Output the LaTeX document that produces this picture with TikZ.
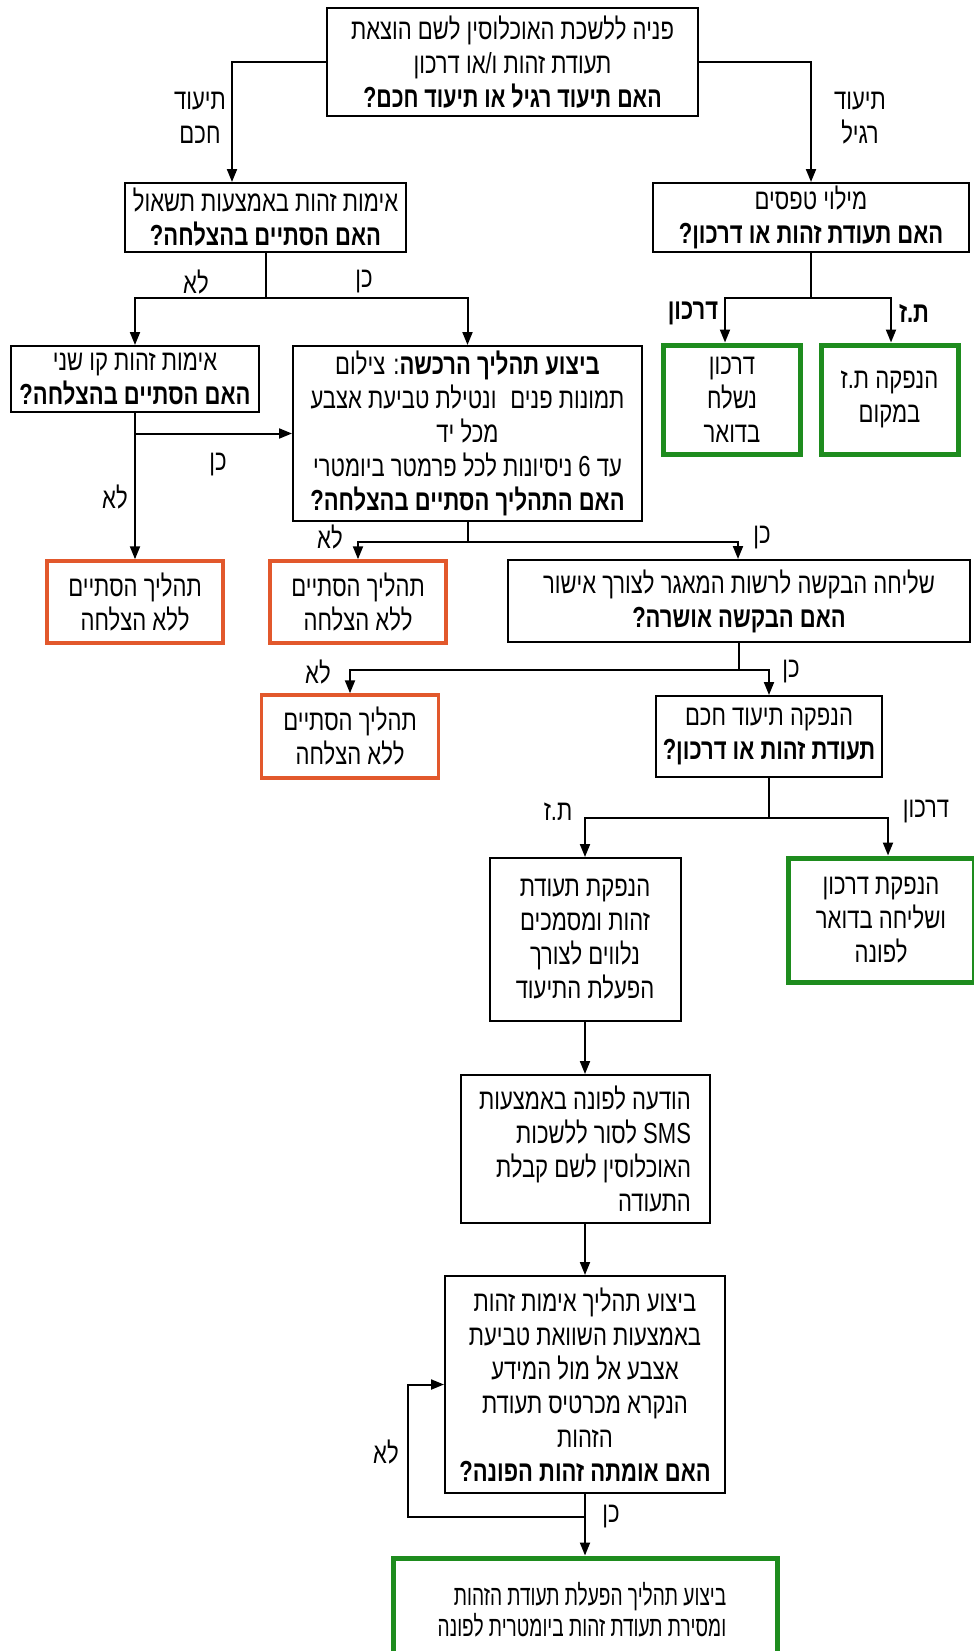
\documentclass[tikz,border=0pt]{standalone}
\usepackage{fontspec}
\usetikzlibrary{arrows.meta,calc}
\newfontfamily\heb[Script=Hebrew,FakeStretch=0.76]{Liberation Sans}
\newfontfamily\hebn[Script=Hebrew,FakeStretch=0.67]{Liberation Sans}
\TeXXeTstate=1
\newcommand\rl[1]{\mbox{\beginR #1\endR}}
\definecolor{boxgreen}{RGB}{30,140,30}
\definecolor{boxorange}{RGB}{226,88,44}
\tikzset{
  base/.style={font=\heb\fontsize{29}{34}\selectfont, inner sep=0pt},
  box/.style={base, draw=black, line width=2pt, align=center},
  gbox/.style={box, draw=boxgreen, line width=5pt},
  obox/.style={box, draw=boxorange, line width=3.5pt},
  lbl/.style={base, align=center},
  conn/.style={line width=2pt},
  arr/.style={conn, -{Triangle[length=13pt,width=10pt]}},
}
\begin{document}
\begin{tikzpicture}[x=1pt,y=-1pt]
\useasboundingbox (0,0) rectangle (974,1651);
% boxes
\node[box, minimum width=371pt, minimum height=108pt] (top) at (512.5,62)
  {\rl{פניה ללשכת האוכלוסין לשם הוצאת}\\\rl{תעודת זהות ו/או דרכון}\\\scalebox{0.97}[1]{\rl{\bfseries האם תיעוד רגיל או תיעוד חכם?}}};
\node[box, minimum width=281pt, minimum height=69pt] (q1) at (265.5,217.5)
  {\rl{אימות זהות באמצעות תשאול}\\\rl{\bfseries האם הסתיים בהצלחה?}};
\node[box, minimum width=316pt, minimum height=69pt] (forms) at (811,217.5)
  {\rl{מילוי טפסים}\\\rl{\bfseries האם תעודת זהות או דרכון?}};
\node[box, minimum width=248pt, minimum height=66pt] (q2) at (135,379)
  {\rl{אימות זהות קו שני}\\\rl{\bfseries האם הסתיים בהצלחה?}};
\node[box, minimum width=349pt, minimum height=175pt] (enroll) at (467.5,433.5)
  {\rl{\textbf{ביצוע תהליך הרכשה}: צילום}\\\rl{תמונות פנים\hspace{14pt}ונטילת טביעת אצבע}\\\rl{מכל יד}\\\rl{עד 6 ניסיונות לכל פרמטר ביומטרי}\\\rl{\bfseries האם התהליך הסתיים בהצלחה?}};
\node[gbox, minimum width=137pt, minimum height=109pt] (g1) at (732,399.5)
  {\rl{דרכון}\\\rl{נשלח}\\\rl{בדואר}};
\node[gbox, minimum width=137pt, minimum height=109pt] (g2) at (889.5,399.5)
  {\rl{הנפקה ת.ז}\\\rl{במקום}};
\node[obox, minimum width=176pt, minimum height=82pt] (o1) at (135,602)
  {\rl{תהליך הסתיים}\\\rl{ללא הצלחה}};
\node[obox, minimum width=176pt, minimum height=82pt] (o2) at (358,602)
  {\rl{תהליך הסתיים}\\\rl{ללא הצלחה}};
\node[box, minimum width=462pt, minimum height=82pt] (send) at (739,601)
  {\rl{שליחה הבקשה לרשות המאגר לצורך אישור}\\\rl{\bfseries האם הבקשה אושרה?}};
\node[obox, minimum width=177pt, minimum height=83pt] (o3) at (350,736.5)
  {\rl{תהליך הסתיים}\\\rl{ללא הצלחה}};
\node[box, minimum width=226pt, minimum height=81pt] (smart) at (769,736.5)
  {\rl{הנפקה תיעוד חכם}\\\rl{\bfseries תעודת זהות או דרכון?}};
\node[box, minimum width=191pt, minimum height=163pt] (issueid) at (585,939.5)
  {\rl{הנפקת תעודת}\\\rl{זהות ומסמכים}\\\rl{נלווים לצורך}\\\rl{הפעלת התיעוד}};
\node[gbox, minimum width=186pt, minimum height=124pt] (g3) at (881,920)
  {\rl{הנפקת דרכון}\\\rl{ושליחה בדואר}\\\rl{לפונה}};
\node[box, minimum width=249pt, minimum height=148pt, align=right] (sms) at (585,1149)
  {\rl{הודעה לפונה באמצעות}\\\rl{\beginL SMS\endL{} לסור ללשכות}\\\rl{האוכלוסין לשם קבלת}\\\rl{התעודה}};
\node[box, minimum width=280pt, minimum height=217pt] (verify) at (585,1384.5)
  {\rl{ביצוע תהליך אימות זהות}\\\rl{באמצעות השוואת טביעת}\\\rl{אצבע אל מול המידע}\\\rl{הנקרא מכרטיס תעודת}\\\rl{הזהות}\\\rl{\bfseries האם אומתה זהות הפונה?}};
\node[gbox, minimum width=384pt, minimum height=104pt, align=right,
      font=\hebn\fontsize{28.5}{31}\selectfont] (final) at (585,1610)
  {\rl{ביצוע תהליך הפעלת תעודת הזהות}\hspace*{6pt}\\\rl{ומסירת תעודת זהות ביומטרית לפונה}\hspace*{6pt}};
% labels
\node[lbl] (lsmart) at (200,118) {\rl{תיעוד}\\\rl{חכם}};
\node[lbl] (lreg) at (860,118) {\rl{תיעוד}\\\rl{רגיל}};
\node[lbl] (n1) at (196,282) {\rl{לא}};
\node[lbl] (y1) at (364,282) {\rl{כן}};
\node[lbl] (lpass) at (693,313) {\rl{\bfseries דרכון}};
\node[lbl] (lid) at (914,313) {\rl{\bfseries ת.ז}};
\node[lbl] (y2) at (218,465) {\rl{כן}};
\node[lbl] (n2) at (115,497) {\rl{לא}};
\node[lbl] (n3) at (330,537) {\rl{לא}};
\node[lbl] (y3) at (762,538) {\rl{כן}};
\node[lbl] (n4) at (318,672) {\rl{לא}};
\node[lbl] (y4) at (791,672) {\rl{כן}};
\node[lbl] (lid2) at (558,812) {\rl{ת.ז}};
\node[lbl] (lpass2) at (926,812) {\rl{דרכון}};
\node[lbl] (n5) at (386,1452) {\rl{לא}};
\node[lbl] (y5) at (611,1517) {\rl{כן}};
% connectors
\draw[arr] (top.west) -| ([xshift=-33.5pt]q1.north);
\draw[arr] (top.east) -| (forms.north);
\draw[conn] (q1.south) -- ++(0,45) coordinate (j1);
\draw[arr] (j1) -| (q2.north);
\draw[arr] (j1) -| (enroll.north);
\draw[conn] (forms.south) -- ++(0,45) coordinate (j2);
\draw[arr] (j2) -| ([xshift=-7pt]g1.north);
\draw[arr] (j2) -| ([xshift=1.5pt]g2.north);
\draw[arr] (q2.south) -- (o1.north);
\draw[arr] (q2.south |- enroll.west) -- (enroll.west);
\draw[conn] (enroll.south) -- ++(0,20) coordinate (j3);
\draw[arr] (j3) -| (o2.north);
\draw[arr] (j3) -| ([xshift=-1pt]send.north);
\draw[conn] (send.south) -- ++(0,27) coordinate (j4);
\draw[arr] (j4) -| (o3.north);
\draw[arr] (j4) -| (smart.north);
\draw[conn] (smart.south) -- ++(0,40) coordinate (j5);
\draw[arr] (j5) -| (issueid.north);
\draw[arr] (j5) -| ([xshift=7pt]g3.north);
\draw[arr] (issueid.south) -- (sms.north);
\draw[arr] (sms.south) -- (verify.north);
\draw[arr] (verify.south) -- (final.north);
\coordinate (j6) at ([yshift=-23pt]verify.south);
\draw[arr] (j6) -- ++(-177,0) |- (verify.west);
\end{tikzpicture}
\end{document}
